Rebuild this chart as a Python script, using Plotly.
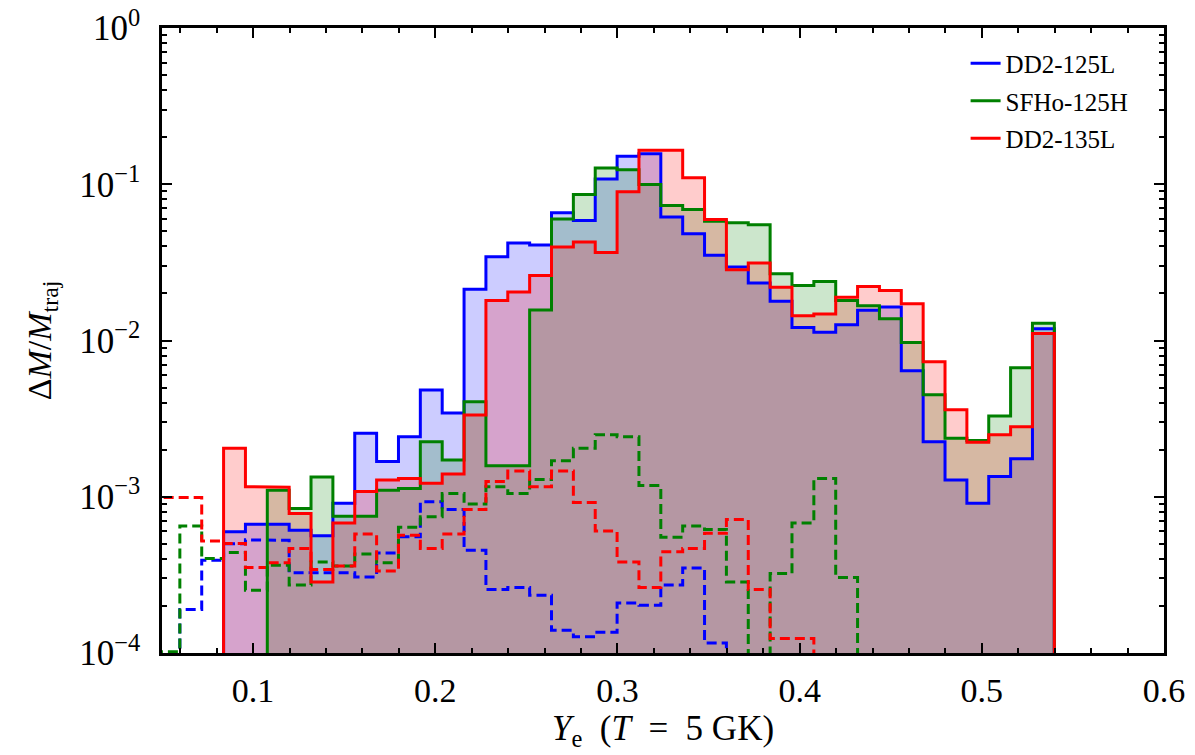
import numpy as np
import plotly.graph_objects as go

# ---- data (histogram bins: 41 bins of width 0.012 starting at Ye = 0.0478) ----
bin_start = 0.0478
bin_width = 0.012
n_bins = 41

# solid histograms (filled)
dd2_125l = [0, 0, 0, 5.97e-4, 6.68e-4, 6.68e-4, 6.1e-4, 5.62e-4, 9.07e-4, 2.55e-3,
            1.68e-3, 2.42e-3, 4.83e-3, 3.43e-3, 0.0213, 0.0343, 0.0421, 0.0408, 0.0656, 0.0587,
            0.108, 0.151, 0.157, 0.0618, 0.0483, 0.0351, 0.0295, 0.0233, 0.0178, 0.0121,
            0.0113, 0.0126, 0.0156, 0.0164, 6.4e-3, 2.25e-3, 1.28e-3, 9.1e-4, 1.35e-3, 1.75e-3,
            0.0119]
sfho_125h = [0, 0, 0, 0, 0, 1.1e-3, 8.4e-4, 1.34e-3, 7.5e-4, 7.5e-4,
             1.1e-3, 1.13e-3, 2.25e-3, 1.72e-3, 4.06e-3, 1.58e-3, 1.58e-3, 0.0157, 0.06, 0.0859,
             0.127, 0.124, 0.0995, 0.073, 0.0689, 0.058, 0.0566, 0.055, 0.0267, 0.0225,
             0.0239, 0.018, 0.0167, 0.0138, 9.7e-3, 4.5e-3, 2.37e-3, 2.29e-3, 3.29e-3, 6.7e-3,
             0.0129]
dd2_135l = [0, 0, 0, 2.04e-3, 1.16e-3, 1.15e-3, 7.8e-4, 2.85e-4, 6.8e-4, 1.08e-3,
            1.28e-3, 1.31e-3, 1.22e-3, 1.4e-3, 3.34e-3, 0.018, 0.0204, 0.0261, 0.0397, 0.0427,
            0.0366, 0.0894, 0.165, 0.165, 0.11, 0.0594, 0.0284, 0.0313, 0.0219, 0.0144,
            0.0148, 0.0189, 0.0222, 0.0209, 0.0172, 7.3e-3, 3.6e-3, 2.23e-3, 2.49e-3, 2.81e-3,
            0.0111]

# dashed histograms
dd2_125l_dash = [0, 1.9e-4, 3.93e-4, 5.0e-4, 5.3e-4, 5.26e-4, 3.26e-4, 3.26e-4, 3.26e-4, 3.07e-4,
                 4.37e-4, 5.54e-4, 9.3e-4, 8.3e-4, 4.55e-4, 2.55e-4, 2.63e-4, 2.34e-4, 1.4e-4, 1.27e-4,
                 1.36e-4, 2.09e-4, 2.02e-4, 2.72e-4, 3.5e-4, 1.16e-4, 0, 0, 0, 0,
                 0, 0, 0, 0, 0, 0, 0, 0, 0, 0, 0]
sfho_125h_dash = [1.02e-4, 6.5e-4, 4.03e-4, 4.4e-4, 2.52e-4, 3.65e-4, 2.72e-4, 3.83e-4, 3.6e-4, 4.3e-4,
                  3.78e-4, 6.37e-4, 7.45e-4, 1.05e-3, 8.98e-4, 1.16e-3, 1.05e-3, 1.29e-3, 1.7e-3, 2.04e-3,
                  2.49e-3, 2.42e-3, 1.18e-3, 5.5e-4, 6.5e-4, 6.18e-4, 2.85e-4, 0, 3.23e-4, 6.8e-4,
                  1.31e-3, 3.04e-4, 0, 0, 0, 0, 0, 0, 0, 0, 0]
dd2_135l_dash = [9.9e-4, 9.9e-4, 5.2e-4, 5.03e-4, 3.52e-4, 3.78e-4, 4.67e-4, 3.42e-4, 3.6e-4, 5.77e-4,
                 3.35e-4, 5.68e-4, 4.67e-4, 5.77e-4, 8.3e-4, 1.25e-3, 1.46e-3, 1.16e-3, 1.46e-3, 9.2e-4,
                 6.03e-4, 3.83e-4, 2.63e-4, 4.44e-4, 4.67e-4, 5.83e-4, 7.16e-4, 2.55e-4, 1.24e-4, 1.24e-4,
                 0, 0, 0, 0, 0, 0, 0, 0, 0, 0, 0]

labels = ["DD2-125L", "SFHo-125H", "DD2-135L"]
colors = ["#0000ff", "#008000", "#ff0000"]
fills = ["rgba(0,0,255,0.2)", "rgba(0,128,0,0.2)", "rgba(255,0,0,0.2)"]

x_tickvals = [0.1, 0.2, 0.3, 0.4, 0.5, 0.6]
x_ticktext = ["0.1", "0.2", "0.3", "0.4", "0.5", "0.6"]
y_tickvals = [1e-4, 1e-3, 1e-2, 1e-1, 1]
y_ticktext = ["10<sup>−4</sup>", "10<sup>−3</sup>", "10<sup>−2</sup>", "10<sup>−1</sup>", "10<sup>0</sup>"]

FONT = "Liberation Serif"
FLOOR = 1e-7

edges = bin_start + bin_width * np.arange(n_bins + 1)


def step_xy(vals):
    xs, ys = [edges[0]], [FLOOR]
    for i, v in enumerate(vals):
        vv = v if v > 0 else FLOOR
        xs += [edges[i], edges[i + 1]]
        ys += [vv, vv]
    xs.append(edges[-1])
    ys.append(FLOOR)
    return xs, ys


solid = [dd2_125l, sfho_125h, dd2_135l]
dashed = [dd2_125l_dash, sfho_125h_dash, dd2_135l_dash]

fig = go.Figure()

for vals, fc in zip(solid, fills):
    xs, ys = step_xy(vals)
    fig.add_trace(go.Scatter(x=xs, y=ys, mode="lines", fill="toself", fillcolor=fc,
                             line=dict(width=0), hoverinfo="skip", showlegend=False))

for vals, c in zip(dashed, colors):
    xs, ys = step_xy(vals)
    fig.add_trace(go.Scatter(x=xs, y=ys, mode="lines",
                             line=dict(color=c, width=3, dash="10px,5px"),
                             showlegend=False))

for vals, c, lab in zip(solid, colors, labels):
    xs, ys = step_xy(vals)
    fig.add_trace(go.Scatter(x=xs, y=ys, mode="lines", name=lab, legendgroup=lab,
                             line=dict(color=c, width=3)))

y_minor = [m * 10.0 ** e for e in range(-4, 0) for m in range(2, 10)]

fig.update_layout(
    width=1195, height=755,
    margin=dict(l=162, r=31, t=28, b=102, autoexpand=False),
    paper_bgcolor="white", plot_bgcolor="white",
    font=dict(family=FONT, color="black", size=34),
    showlegend=True,
    legend=dict(x=0.802, y=0.980, xanchor="left", yanchor="top",
                font=dict(size=25, family=FONT), bgcolor="rgba(0,0,0,0)",
                tracegroupgap=2),
    xaxis=dict(range=[0.05, 0.6], tickmode="array", tickvals=x_tickvals, ticktext=x_ticktext,
               ticks="inside", ticklen=10, tickwidth=2, tickcolor="black",
               minor=dict(tickmode="linear", tick0=0, dtick=0.02, ticks="inside",
                          ticklen=5, tickwidth=1.5, tickcolor="black"),
               showline=True, linewidth=2.5, linecolor="black", mirror="allticks",
               showgrid=False, zeroline=False, ticklabelstandoff=5, automargin=False,
               tickfont=dict(size=34),
               title=dict(text="<i>Y</i><sub>e</sub>  (<i>T</i>  =  5 GK)", font=dict(size=35),
                          standoff=2)),
    yaxis=dict(type="log", range=[-4, 0], tickmode="array", tickvals=y_tickvals, ticktext=y_ticktext,
               ticks="inside", ticklen=10, tickwidth=2, tickcolor="black",
               minor=dict(tickmode="array", tickvals=y_minor, ticks="inside",
                          ticklen=5, tickwidth=1.5, tickcolor="black"),
               showline=True, linewidth=2.5, linecolor="black", mirror="allticks",
               showgrid=False, zeroline=False, ticklabelstandoff=12, automargin=False,
               tickfont=dict(size=35),
               title=dict(text="Δ<i>M</i>/<i>M</i><sub>traj</sub>", font=dict(size=34),
                          standoff=18)),
)

fig.write_html("out.html")
